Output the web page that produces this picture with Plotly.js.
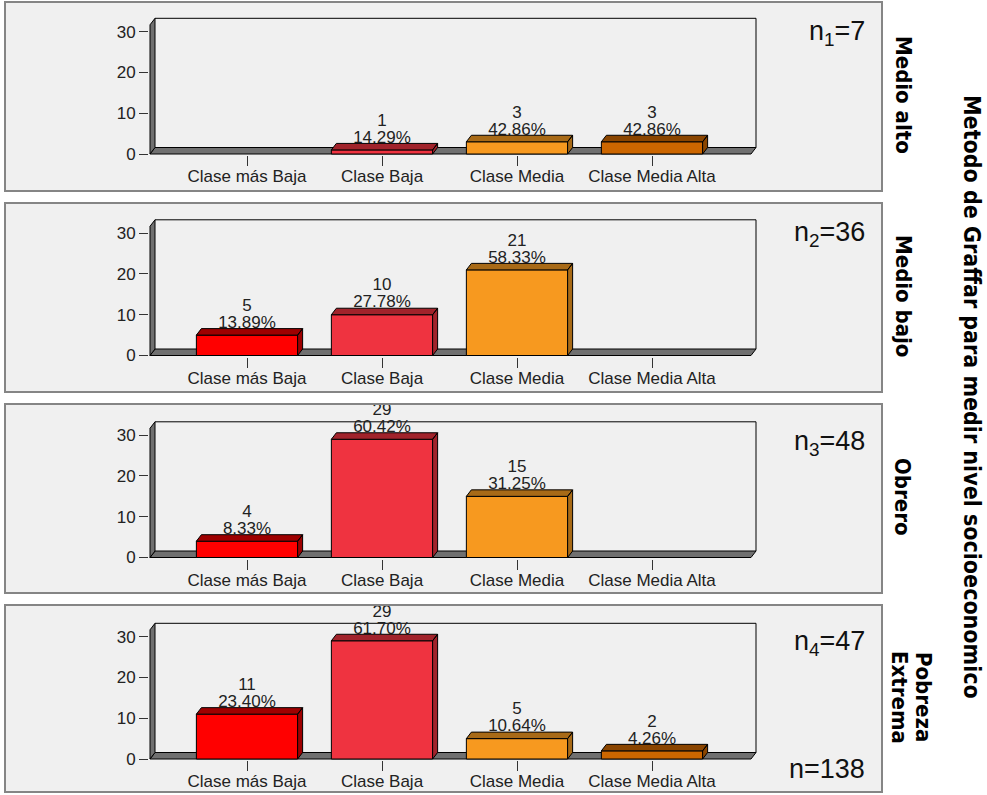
<!DOCTYPE html>
<html><head><meta charset="utf-8">
<script src="https://cdn.plot.ly/plotly-3.0.1.min.js"></script>
<style>html,body{margin:0;padding:0;background:#fff}</style>
</head><body><div id="chart" style="width:987px;height:795px"></div>
<script>
// ---------------- data ----------------
const categories = ['Clase más Baja', 'Clase Baja', 'Clase Media', 'Clase Media Alta'];
const panelNames = ['Medio alto', 'Medio bajo', 'Obrero', 'Pobreza Extrema'];
const nLabels = ['n<sub>1</sub>=7', 'n<sub>2</sub>=36', 'n<sub>3</sub>=48', 'n<sub>4</sub>=47'];
const totalLabel = 'n=138';
const titleText = 'Metodo de Graffar para medir nivel socioeconomico';

const countsMedioAlto = [0, 1, 3, 3];
const countsMedioBajo = [5, 10, 21, 0];
const countsObrero    = [4, 29, 15, 0];
const countsPobreza   = [11, 29, 5, 2];

const pctMedioAlto = ['', '14.29%', '42.86%', '42.86%'];
const pctMedioBajo = ['13.89%', '27.78%', '58.33%', ''];
const pctObrero    = ['8.33%', '60.42%', '31.25%', ''];
const pctPobreza   = ['23.40%', '61.70%', '10.64%', '4.26%'];

const yTickVals = [0, 10, 20, 30];

const frontColors = ['#FF0000', '#EF3340', '#F7991F', '#CC6600'];
const darkColors  = ['#9E0000', '#A1232B', '#A86A17', '#8A4500'];

const panels = [
  {counts: countsMedioAlto, pct: pctMedioAlto},
  {counts: countsMedioBajo, pct: pctMedioBajo},
  {counts: countsObrero, pct: pctObrero},
  {counts: countsPobreza, pct: pctPobreza}
];

// ---------------- geometry (pixels) ----------------
const W = 987, H = 795;
const PXU = 4.077;           // px per count unit
const CAT0PX = 247, CATPX = 135;
const FRONT_L_PX = 150, BACK_R_PX = 756;
const DX_PX = 5, DY_PX = 6.5;
const WALL_PX = 135.7;
const TOP_PX_MAX = 165;      // room above the wall for labels
const BASE_PX = [154, 355.5, 557.5, 759];
const PANEL_PX = [[2, 191], [203, 392], [404, 593], [605, 792]];
const BAR_W = 0.75;

const dxU = DX_PX / CATPX, dyU = DY_PX / PXU;
const x0 = (FRONT_L_PX - CAT0PX) / CATPX;
const xBack = (BACK_R_PX - CAT0PX) / CATPX;
const xFrontR = xBack - dxU;
const yTopBack = WALL_PX / PXU;
const yTopFront = yTopBack - dyU;
const xRange = [(FRONT_L_PX - 1 - CAT0PX) / CATPX, (BACK_R_PX + 1 - CAT0PX) / CATPX];

const FONT = '"Liberation Sans", Arial, sans-serif';
const BFONT = '"DejaVu Sans Condensed", "Liberation Sans", sans-serif';

const traces = [];
const shapes = [];
const annotations = [];
const layout = {
  width: W, height: H,
  margin: {l: 0, r: 0, t: 0, b: 0},
  paper_bgcolor: '#FFFFFF',
  plot_bgcolor: 'rgba(0,0,0,0)',
  showlegend: false,
  font: {family: FONT, size: 17, color: '#222'}
};

const px2x = p => p / W;
const px2y = p => 1 - p / H;

panels.forEach((p, k) => {
  const sfx = k === 0 ? '' : String(k + 1);
  const xa = 'x' + sfx, ya = 'y' + sfx;
  const B = BASE_PX[k];
  const topPx = Math.min(TOP_PX_MAX, B - 1);
  layout['xaxis' + sfx] = {
    domain: [px2x(FRONT_L_PX - 1), px2x(BACK_R_PX + 1)],
    range: xRange, anchor: ya, fixedrange: true,
    tickmode: 'array', tickvals: [0, 1, 2, 3], ticktext: categories,
    ticks: 'outside', ticklen: 10, tickwidth: 1, tickcolor: '#333',
    ticklabelstandoff: -4,
    showline: false, showgrid: false, zeroline: false,
    tickfont: {family: FONT, size: 17, color: '#222'}
  };
  layout['yaxis' + sfx] = {
    domain: [px2y(B + 1), px2y(B - topPx)],
    range: [-1 / PXU, topPx / PXU], anchor: xa, fixedrange: true,
    tickmode: 'array', tickvals: yTickVals,
    ticks: 'outside', ticklen: 9, tickwidth: 1, tickcolor: '#333',
    showline: false, showgrid: false, zeroline: false,
    tickfont: {family: FONT, size: 17, color: '#222'}
  };

  // panel background + border
  const [pt, pb] = PANEL_PX[k];
  shapes.push({type: 'rect', xref: 'paper', yref: 'paper', layer: 'below',
    x0: px2x(5), x1: px2x(882), y0: px2y(pb), y1: px2y(pt),
    fillcolor: '#F0F0F0', line: {width: 0}});
  shapes.push({type: 'rect', xref: 'paper', yref: 'paper', layer: 'above',
    x0: px2x(5), x1: px2x(882), y0: px2y(pb), y1: px2y(pt),
    fillcolor: 'rgba(0,0,0,0)', line: {color: '#858585', width: 2}});

  // 3D frame: back wall outline, floor, side wall
  shapes.push({type: 'path', xref: xa, yref: ya, layer: 'below',
    path: `M ${x0 + dxU},${yTopBack} L ${xBack},${yTopBack} L ${xBack},${dyU}`,
    line: {color: '#000', width: 1}});
  shapes.push({type: 'path', xref: xa, yref: ya, layer: 'below',
    path: `M ${x0},0 L ${xFrontR},0 L ${xBack},${dyU} L ${x0 + dxU},${dyU} Z`,
    fillcolor: '#707070', line: {color: '#000', width: 1}});
  shapes.push({type: 'path', xref: xa, yref: ya, layer: 'below',
    path: `M ${x0},0 L ${x0},${yTopFront} L ${x0 + dxU},${yTopBack} L ${x0 + dxU},${dyU} Z`,
    fillcolor: '#707070', line: {color: '#000', width: 1}});

  // front faces
  traces.push({
    type: 'bar', xaxis: xa, yaxis: ya,
    x: [0, 1, 2, 3], y: p.counts.map(v => v > 0 ? v : null),
    width: BAR_W,
    marker: {color: frontColors, line: {color: '#000', width: 1}},
    hoverinfo: 'skip'
  });

  // labels (drawn before the top faces so the faces overlap their bottoms)
  const idx = [0, 1, 2, 3].filter(i => p.counts[i] > 0);
  traces.push({
    type: 'scatter', mode: 'text', xaxis: xa, yaxis: ya, cliponaxis: false,
    x: idx, y: idx.map(i => p.counts[i] + dyU + 5 / PXU),
    text: idx.map(i => p.pct[i]), textposition: 'middle center',
    textfont: {family: FONT, size: 17, color: '#222'}, hoverinfo: 'skip'
  });
  traces.push({
    type: 'scatter', mode: 'text', xaxis: xa, yaxis: ya, cliponaxis: false,
    x: idx, y: idx.map(i => p.counts[i] + dyU + 22 / PXU),
    text: idx.map(i => String(p.counts[i])), textposition: 'middle center',
    textfont: {family: FONT, size: 17, color: '#222'}, hoverinfo: 'skip'
  });

  // top + side faces
  p.counts.forEach((v, i) => {
    if (!(v > 0)) return;
    const l = i - BAR_W / 2, r = i + BAR_W / 2;
    traces.push({
      type: 'scatter', mode: 'lines', xaxis: xa, yaxis: ya,
      x: [l, l + dxU, r + dxU, r, l, null, r, r + dxU, r + dxU, r, r],
      y: [v, v + dyU, v + dyU, v, v, null, 0, dyU, v + dyU, v, 0],
      fill: 'toself', fillcolor: darkColors[i],
      line: {color: '#000', width: 1}, hoverinfo: 'skip'
    });
  });
});

// white gaps above/between panels (clip overflowing labels)
[[0, 2], [191, 203], [392, 404], [593, 605]].forEach(([a, b]) => {
  shapes.push({type: 'rect', xref: 'paper', yref: 'paper', layer: 'above',
    x0: px2x(0), x1: px2x(884), y0: px2y(b - 1), y1: px2y(a + 1),
    fillcolor: '#FFFFFF', line: {width: 0}});
});

// n labels
const nBase = [40.7, 241.7, 450, 650];
nLabels.forEach((t, k) => {
  annotations.push({xref: 'paper', yref: 'paper', x: px2x(867), y: px2y(nBase[k] - 26.5),
    xanchor: 'right', yanchor: 'top', showarrow: false, text: t,
    font: {family: FONT, size: 27, color: '#111'}});
});
annotations.push({xref: 'paper', yref: 'paper', x: px2x(867), y: px2y(778 - 26.5),
  xanchor: 'right', yanchor: 'top', showarrow: false, text: totalLabel,
  font: {family: FONT, size: 27, color: '#111'}});

// facet labels (rotated)
panelNames.forEach((name, k) => {
  const [pt, pb] = PANEL_PX[k];
  const cy = (pt + pb) / 2 - 1.5;
  const words = k === 3 ? name.split(' ') : [name];
  const xs = words.length === 2 ? [924, 900] : [903];
  words.forEach((w, j) => {
    annotations.push({xref: 'paper', yref: 'paper', x: px2x(xs[j]), y: px2y(cy),
      xanchor: 'center', yanchor: 'middle', showarrow: false, textangle: 90,
      text: '<b>' + w + '</b>', font: {family: BFONT, size: 22, color: '#000'}});
  });
});

// overall title
annotations.push({xref: 'paper', yref: 'paper', x: px2x(972), y: px2y(397),
  xanchor: 'center', yanchor: 'middle', showarrow: false, textangle: 90,
  text: '<b>' + titleText + '</b>', font: {family: BFONT, size: 23, color: '#000'}});

layout.shapes = shapes;
layout.annotations = annotations;

Plotly.newPlot('chart', traces, layout, {displayModeBar: false, staticPlot: true});
</script>
</body></html>
